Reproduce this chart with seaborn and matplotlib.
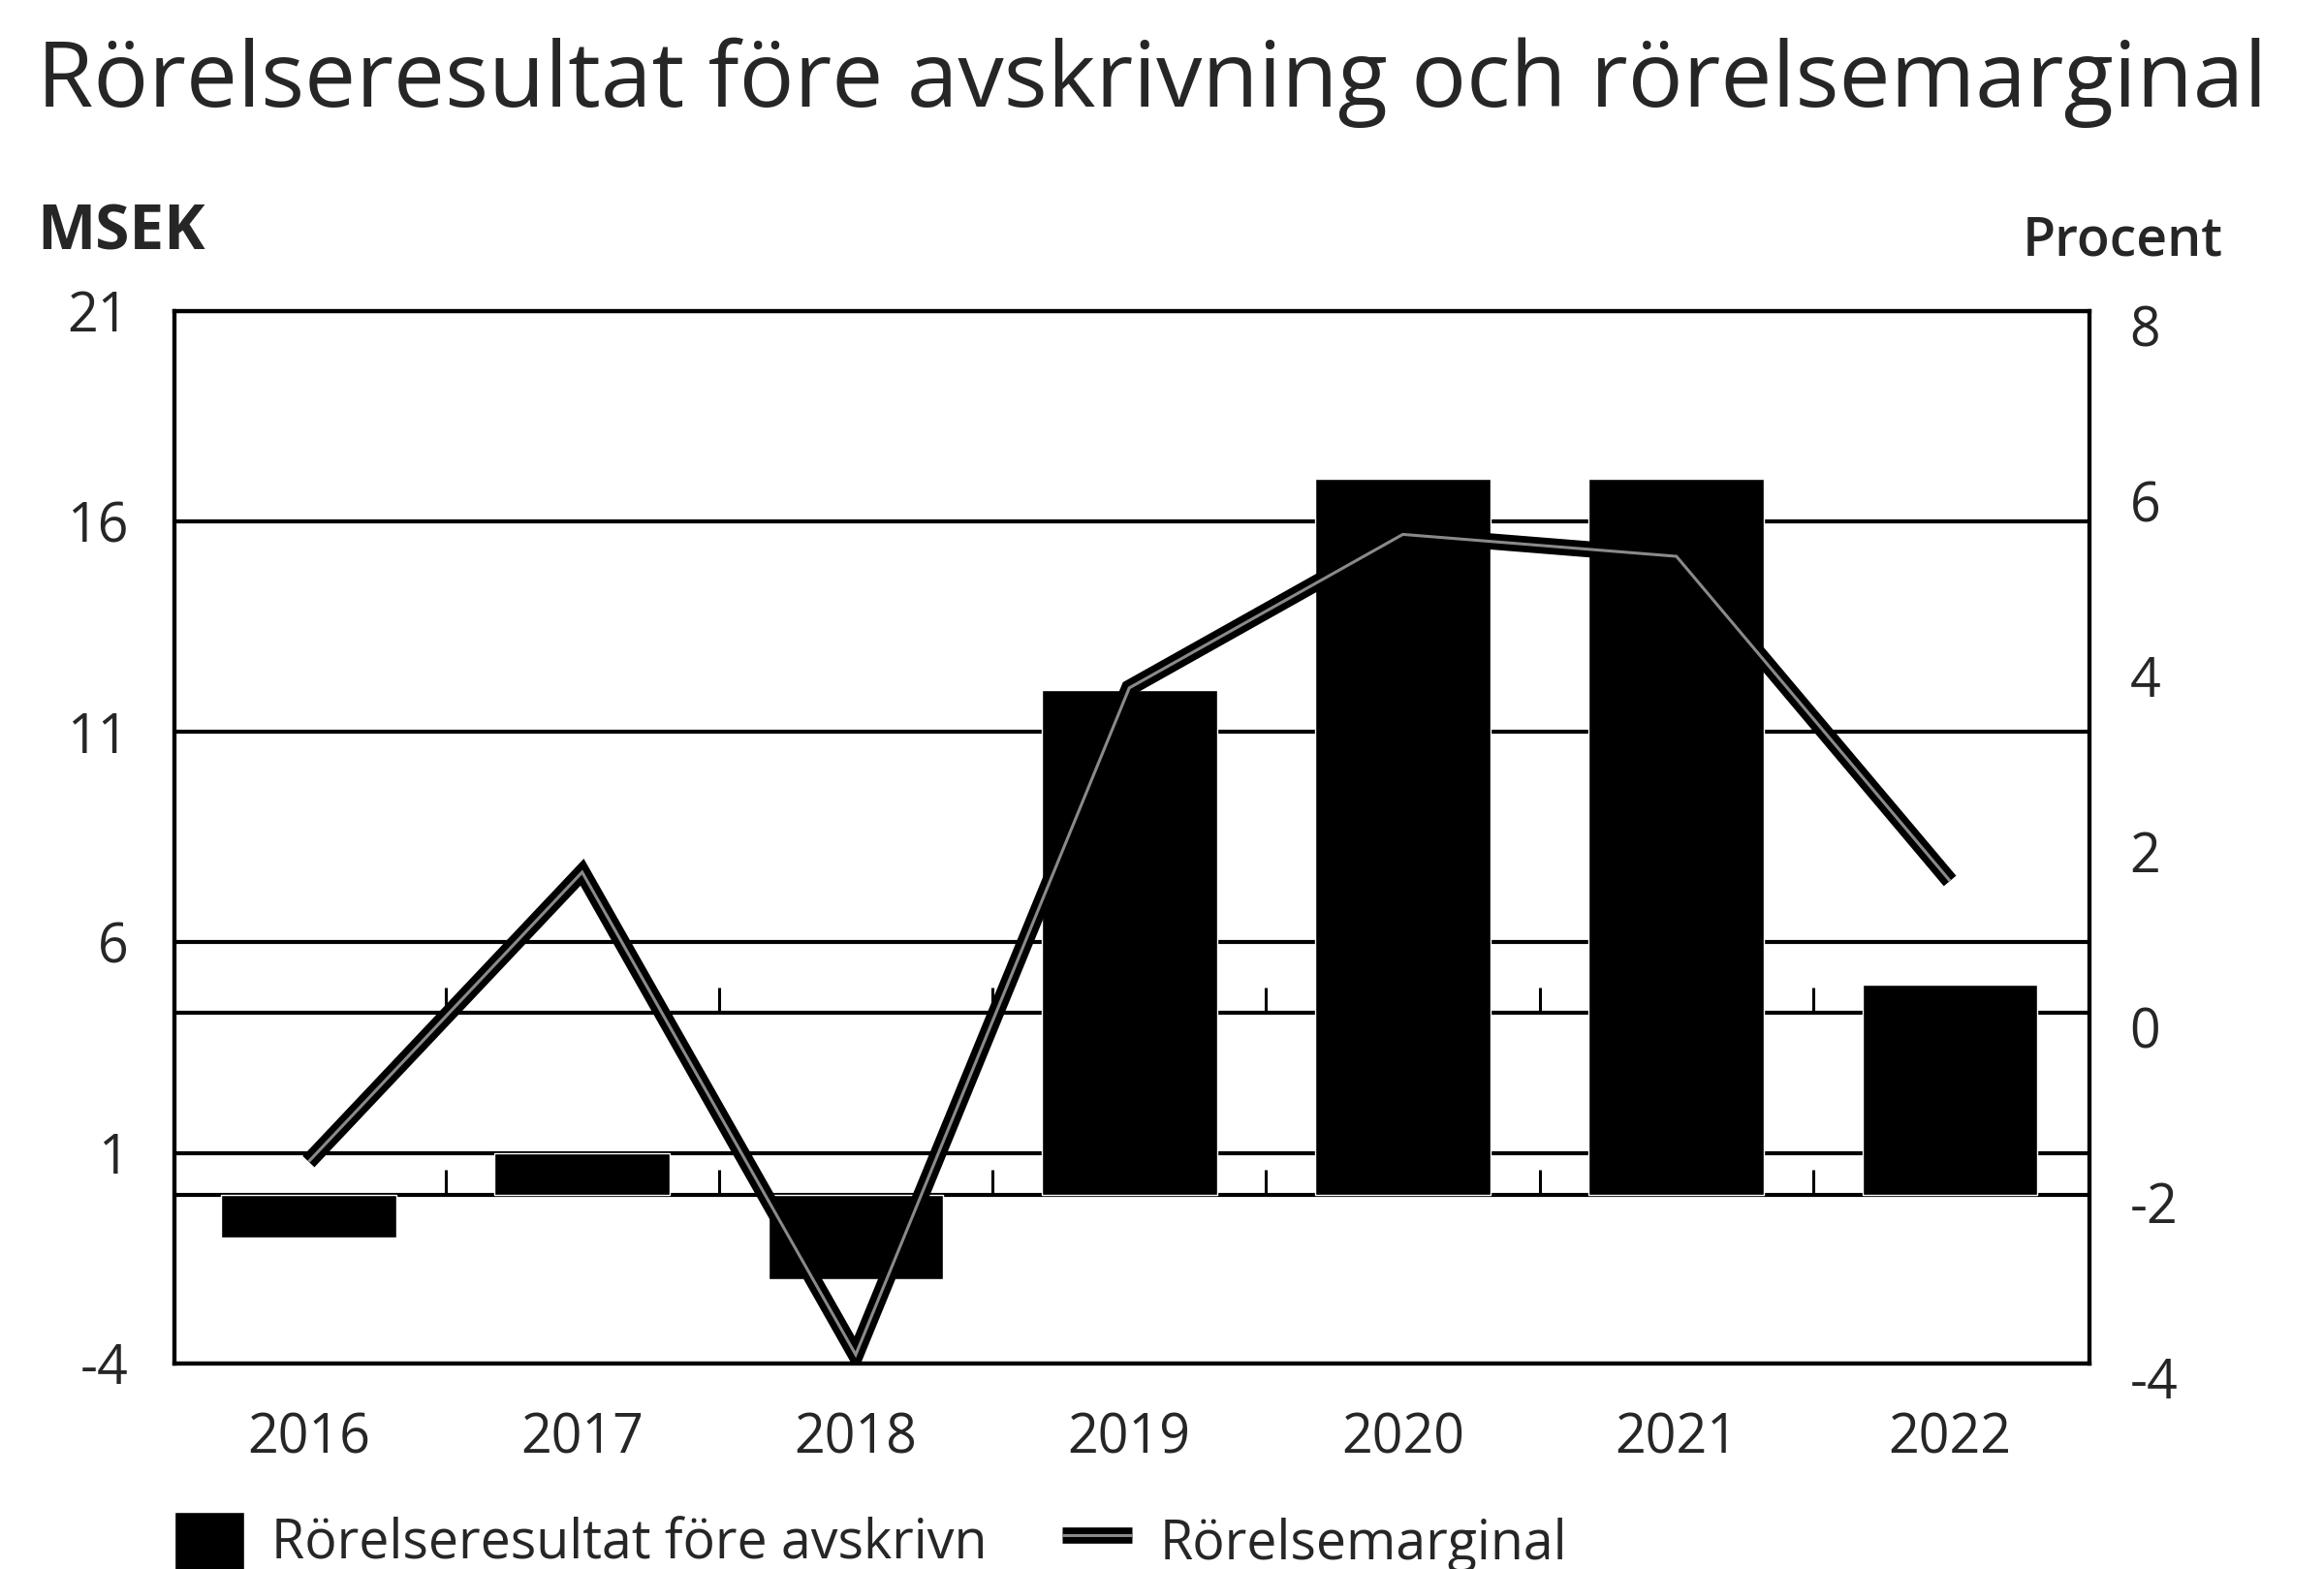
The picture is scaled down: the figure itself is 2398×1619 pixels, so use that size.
import numpy as np
import pandas as pd
import seaborn as sns
import matplotlib.pyplot as plt
import matplotlib.patheffects as pe
import matplotlib.transforms as mtransforms

# data
years = ['2016', '2017', '2018', '2019', '2020', '2021', '2022']
ebitda = [-1.0, 1.0, -2.0, 12.0, 17.0, 17.0, 5.0]        # MSEK, left axis
margin = [-1.7, 1.6, -3.9, 3.7, 5.45, 5.2, 1.5]           # procent, right axis

left_ticks = [-4, 1, 6, 11, 16, 21]
right_ticks = [-4, -2, 0, 2, 4, 6, 8]

sns.set_style('white')
plt.rcParams['font.family'] = ['Open Sans', 'DejaVu Sans']
plt.rcParams['axes.unicode_minus'] = False

fig = plt.figure(figsize=(23.98, 16.19), dpi=100)
ax = fig.add_axes([0.0751, 0.131, 0.824, 0.671])

df = pd.DataFrame({'year': years, 'ebitda': ebitda})
sns.barplot(data=df, x='year', y='ebitda', color='black', saturation=1,
            width=0.64, ax=ax, zorder=3)

ax.set_ylim(left_ticks[0], left_ticks[-1])
ax.set_yticks(left_ticks)
ax.set_xlim(-0.49, len(years) - 0.49)
ax.set_xlabel('')
ax.set_ylabel('')
ax.grid(axis='y', color='black', lw=3)
ax.grid(axis='x', visible=False)
ax.set_axisbelow(True)

# zero line of each axis, with small tick marks between the years
lo, hi = left_ticks[0], left_ticks[-1]
rlo, rhi = right_ticks[0], right_ticks[-1]
right_zero = lo + (0 - rlo) / (rhi - rlo) * (hi - lo)
between = np.arange(len(years) - 1) + 0.5
for yline in [0, right_zero]:
    ax.axhline(yline, color='black', lw=3, zorder=2)
    ax.vlines(between, yline, yline + 0.6, color='black', lw=2.2, zorder=2)

ax2 = ax.twinx()
sns.lineplot(x=np.arange(len(years)), y=margin, ax=ax2, color='#8a8a8a', lw=2.2,
             solid_joinstyle='miter', solid_capstyle='butt',
             path_effects=[pe.Stroke(linewidth=12, foreground='black'), pe.Normal()])
ax2.set_ylim(rlo, rhi)
ax2.set_yticks(right_ticks)
ax2.set_ylabel('')

for a in [ax, ax2]:
    for s in a.spines.values():
        s.set_visible(True)
        s.set_color('black')
        s.set_linewidth(3)

ax.tick_params(axis='y', length=0, pad=34, labelsize=40)
ax.tick_params(axis='x', length=0, pad=36, labelsize=40)
ax2.tick_params(axis='y', length=0, pad=30, labelsize=40)
for lab in ax.get_xticklabels() + ax.get_yticklabels() + ax2.get_yticklabels():
    lab.set_fontweight('medium')

# right labels sit a little lower than their values in the original
offset = mtransforms.ScaledTranslation(0, -0.15, fig.dpi_scale_trans)
for lab in ax2.get_yticklabels():
    lab.set_transform(lab.get_transform() + offset)

fig.text(0.016, 0.932, 'Rörelseresultat före avskrivning och rörelsemarginal',
         fontsize=68, fontweight='medium', ha='left', va='baseline')
fig.text(0.016, 0.841, 'MSEK', fontsize=46, fontweight='bold', ha='left', va='baseline')
fig.text(0.9566, 0.8375, 'Procent', fontsize=40, fontweight='semibold', ha='right', va='baseline')

fig.legend([ax.patches[0], ax2.lines[0]],
           ['Rörelseresultat före avskrivn', 'Rörelsemarginal'],
           loc='center left', bbox_to_anchor=(0.075, 0.017), ncol=2, frameon=False,
           fontsize=40, handlelength=1.3, handleheight=1.3, handletextpad=0.5,
           columnspacing=1.4, borderaxespad=0, borderpad=0,
           prop={'weight': 'medium', 'size': 40})

fig.savefig('out.png', dpi=100)
